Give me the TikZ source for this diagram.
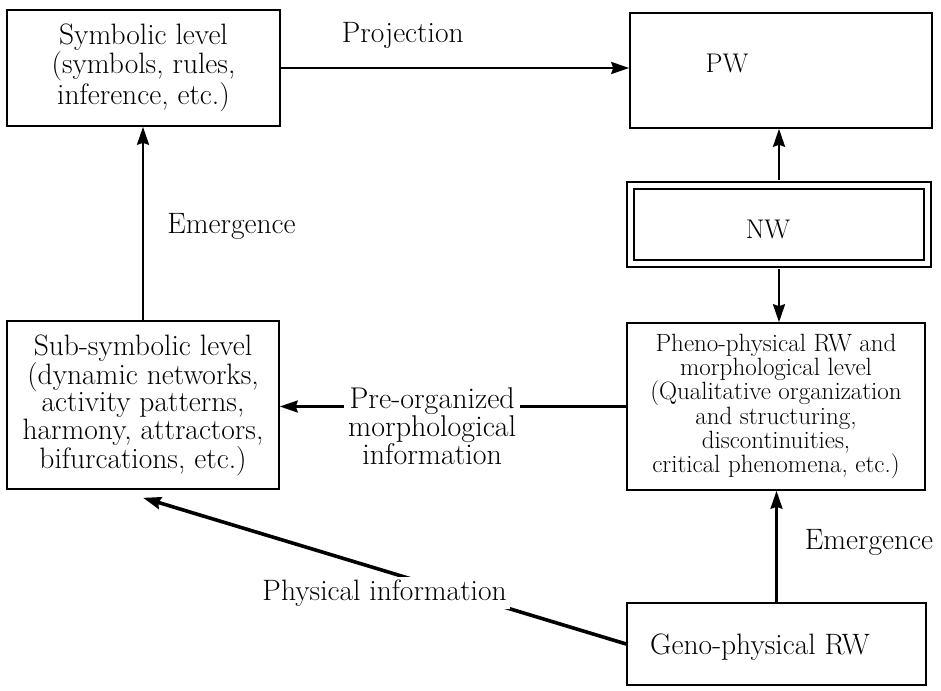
\documentclass[tikz,border=0pt]{standalone}
\usetikzlibrary{arrows.meta,calc}
\tikzset{
  lvl/.style={draw, line width=1.6pt, inner sep=0pt, align=center,
              font=\fontsize{29.5}{25}\selectfont},
  txt/.style={font=\fontsize{29.5}{25}\selectfont, inner sep=0pt},
  infolab/.style={font=\fontsize{30}{22}\selectfont, align=center, inner xsep=4pt, inner ysep=2pt},
  link/.style={line width=2.4pt, -{Stealth[length=18pt,width=12pt,inset=2pt]}},
}

\begin{document}
\begin{tikzpicture}[x=1pt,y=1pt]
\useasboundingbox (0,0) rectangle (941,-690);
% left column
\node[lvl, minimum width=273, minimum height=116] (sym) at (143.5,-68)
  {Symbolic level\\(symbols, rules,\\inference, etc.)};
\node[lvl, minimum width=272, minimum height=168] (sub) at (143,-405)
  {Sub-symbolic level\\(dynamic networks,\\activity patterns,\\harmony, attractors,\\bifurcations, etc.)};
% right column
\node[lvl, minimum width=302, minimum height=115,
      label={[txt, font=\fontsize{27}{25}\selectfont, xshift=-54pt, yshift=7pt]center:PW}] (pw) at (781,-70.5) {};
\node[lvl, double, double distance=5.5pt, line width=1.5pt,
      minimum width=297, minimum height=78,
      label={[txt, font=\fontsize{27}{25}\selectfont, xshift=-11pt, yshift=-4.5pt]center:NW}] (nw) at (779,-224.5) {};
\node[lvl, font=\fontsize{25}{24.3}\selectfont, minimum width=298, minimum height=167] (pheno) at (776,-406.5)
  {Pheno-physical RW and\\morphological level\\(Qualitative organization\\and structuring,\\discontinuities,\\critical phenomena, etc.)};
\node[lvl, minimum width=299, minimum height=82,
      label={[txt, xshift=-16.5pt, yshift=-3pt]center:Geno-physical RW}] (geno) at (776.5,-644) {};

% connectors
\draw[link] (sym.east) -- node[txt, pos=0.35, yshift=33pt] (projlab) {Projection}
  (sym.east -| pw.west);
\draw[link] (sub.north) -- node[txt, midway, xshift=88.5pt, yshift=-2.5pt] (emlab) {Emergence}
  (sub.north |- sym.south);
\draw[link, shorten <=4.5pt] (nw.north) -- (nw.north |- pw.south);
\draw[link, shorten <=4.5pt] (nw.south) -- (nw.south |- pheno.north);
\draw[link] (geno.north) -- node[txt, midway, xshift=92.5pt, yshift=4.5pt] (emlabr) {Emergence}
  (geno.north |- pheno.south);
\draw[link] (pheno.west) -- node[infolab, pos=0.56, yshift=-20pt, fill=white] (prelab)
  {Pre-organized\\morphological\\information} (pheno.west -| sub.east);
\draw[link, line width=3.6pt] (geno.west) -- node[txt, midway, yshift=-22pt, fill=white, inner sep=3pt] (physlab)
  {Physical information} ([yshift=-8pt]sub.south);
\end{tikzpicture}
\end{document}
